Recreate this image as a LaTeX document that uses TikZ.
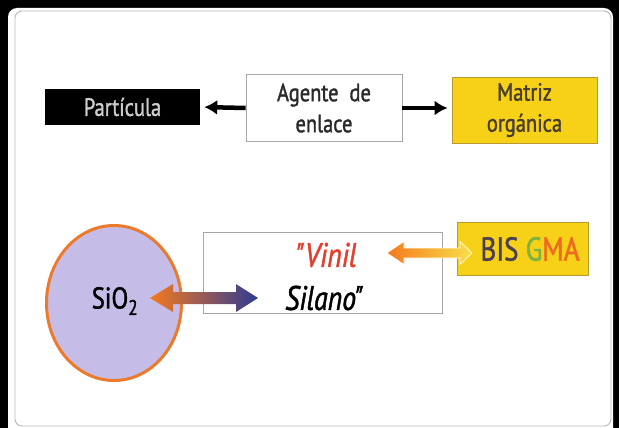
\documentclass[tikz,border=0pt]{standalone}
\usepackage{fontspec}
\setmainfont{PT Sans}
\newfontfamily\cf[FakeStretch=0.82,FakeBold=1.4]{PT Sans}
\usetikzlibrary{arrows.meta,shapes.geometric,calc}
\definecolor{ylw}{HTML}{F7D117}
\definecolor{ylwborder}{HTML}{B89A30}
\definecolor{lav}{HTML}{C5BDE8}
\definecolor{orng}{HTML}{EC7A2C}
\definecolor{vred}{HTML}{E2402F}
\definecolor{bisdark}{HTML}{4B3F55}
\definecolor{gmag}{HTML}{7DB343}
\definecolor{gmao}{HTML}{EE6A22}
\definecolor{txtdark}{HTML}{2A2A2A}
\definecolor{matrtxt}{HTML}{4A3F2F}
\definecolor{arrO}{HTML}{F57A1E}
\definecolor{arrY}{HTML}{F8E04A}
\definecolor{arrP}{HTML}{B03C9C}
\definecolor{arrB}{HTML}{2E3A94}
\tikzset{
  lbl/.style={font=\cf\fontsize{25}{31}\selectfont, align=center, inner sep=0pt},
  blackbox/.style={lbl, fill=black, text={rgb,255:red,205;green,205;blue,205}, minimum width=155pt, minimum height=36pt},
  whitebox/.style={lbl, fill=white, draw=gray!70, line width=0.8pt, text=txtdark, minimum width=156pt, minimum height=67pt},
  yellowbox/.style={lbl, fill=ylw, draw=ylwborder, line width=0.8pt, text=matrtxt},
  conn/.style={line width=4.5pt, -{Latex[length=13pt,width=15pt]}, shorten >=4pt},
  bigit/.style={font=\cf\fontsize{34}{36}\selectfont\itshape, inner sep=0pt},
}
\begin{document}
\begin{tikzpicture}[x=1pt,y=-1pt]
\useasboundingbox (0,0) rectangle (619,428);
\fill[black] (0,0) rectangle (619,428);
\fill[white, rounded corners=9pt] (8,8) rectangle (613,445);
\fill[white] (8,420) rectangle (613,428);
\draw[gray!55, line width=0.9pt, rounded corners=7pt] (15,11) rectangle (611,426);

% top row
\node[blackbox] (part) at (122.5,107) {Partícula};
\node[whitebox] (agente) at (324,108) {Agente\ \ de\\enlace};
\node[yellowbox, minimum width=145pt, minimum height=66pt] (matriz) at (524.5,110) {Matriz\\orgánica};
\draw[conn] (agente.west) -- (part.east);
\draw[conn] (agente.east) -- (agente.east -| matriz.west);

% bottom row
\node[ellipse, fill=lav, draw=orng, line width=3pt, minimum width=135pt, minimum height=155pt, inner sep=0pt] (sio) at (114,303) {};
\node[lbl, font=\cf\fontsize{30}{32}\selectfont, text=black] (siotxt) at (115,301) {SiO\textsubscript{2}};
\node[whitebox, minimum width=239pt, minimum height=81pt] (silbox) at (323,272.5) {};
\node[bigit, text=vred] (vinil) at (326,255) {"Vinil};
\node[bigit, text=black] (silano) at (324,298) {Silano"};
\node[lbl, fill=ylw, draw=ylwborder, line width=0.8pt, minimum width=131pt, minimum height=53pt, font=\cf\fontsize{33}{34}\selectfont] (bis) at (523,249) {\hspace*{14pt}\textcolor{bisdark}{BIS} \textcolor{gmag}{G}\textcolor{gmao}{MA}};

% fat arrows
\coordinate (uL) at (387,253);
\coordinate (uR) at (472,253);
\shade[left color=arrO, right color=arrY, draw=white, line width=0.6pt]
  (uL) -- ([shift={(17,-11.5)}]uL) -- ([shift={(17,-5)}]uL) -- ([shift={(-12,-5)}]uR)
  -- ([shift={(-12,-11.5)}]uR) -- (uR) -- ([shift={(-12,11.5)}]uR) -- ([shift={(-12,5)}]uR)
  -- ([shift={(17,5)}]uL) -- ([shift={(17,11.5)}]uL) -- cycle;
\coordinate (lL) at (150,298);
\coordinate (lR) at (258,298);
\shade[left color=arrO, middle color=arrP, right color=arrB]
  (lL) -- ([shift={(23,-14)}]lL) -- ([shift={(23,-6)}]lL) -- ([shift={(-22,-6)}]lR)
  -- ([shift={(-22,-14)}]lR) -- (lR) -- ([shift={(-22,14)}]lR) -- ([shift={(-22,6)}]lR)
  -- ([shift={(23,6)}]lL) -- ([shift={(23,14)}]lL) -- cycle;
\end{tikzpicture}
\end{document}
